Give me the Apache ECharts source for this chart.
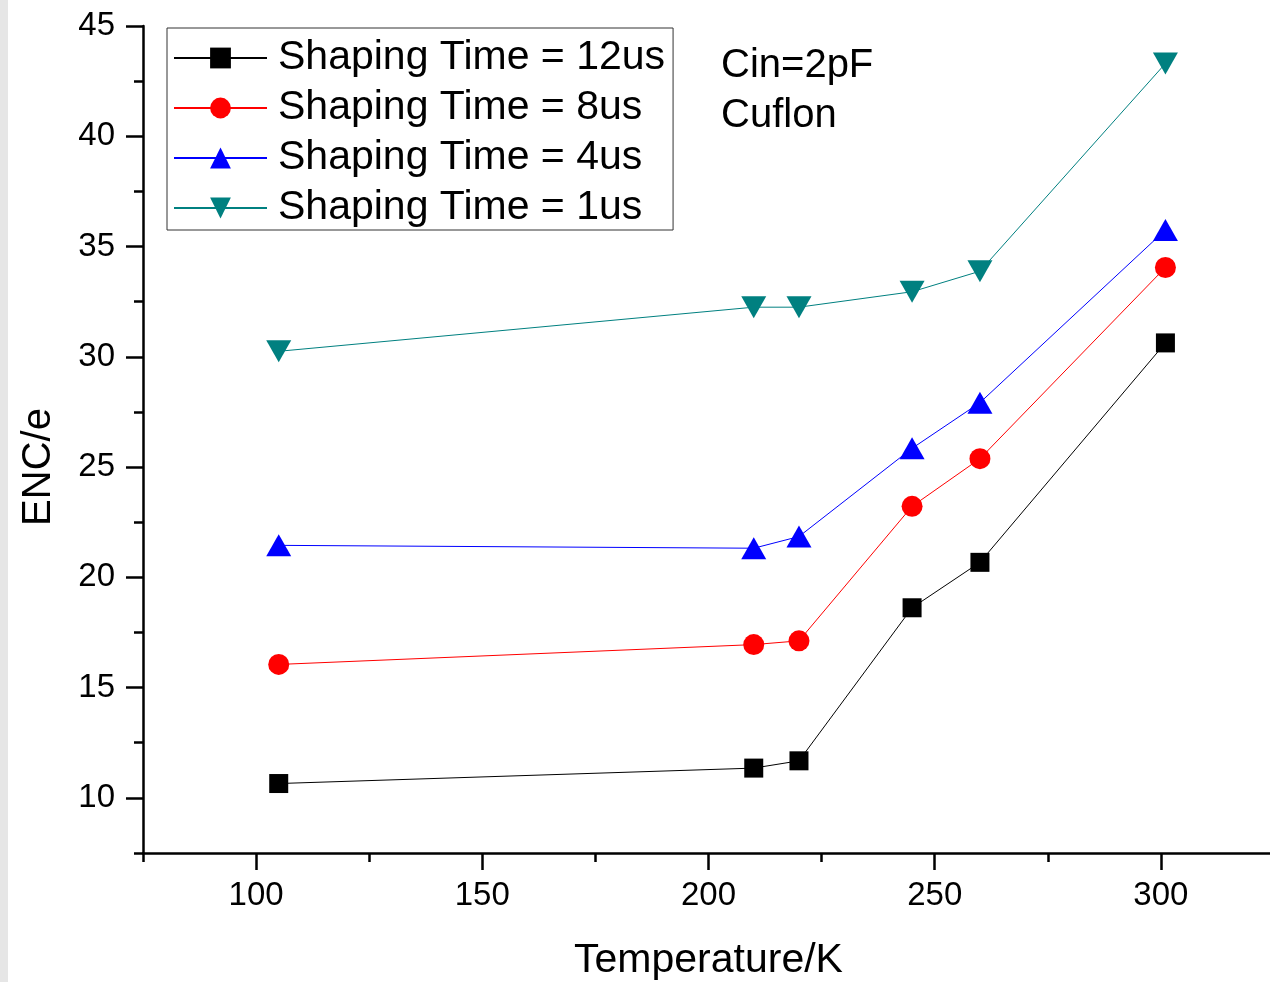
<!DOCTYPE html>
<html>
<head>
<meta charset="utf-8">
<script src="https://cdn.jsdelivr.net/npm/echarts@6/dist/echarts.min.js"></script>
<style>
html,body{margin:0;padding:0;background:#fff;}
#chart{width:1270px;height:982px;}
</style>
</head>
<body>
<div id="chart"></div>
<script>
// ---- data ----
const temperatures = [105, 210, 220, 245, 260, 301];
const enc12us = [10.65, 11.35, 11.68, 18.62, 20.68, 30.63];
const enc8us  = [16.05, 16.95, 17.12, 23.22, 25.38, 34.05];
const enc4us  = [21.45, 21.32, 21.85, 25.85, 27.92, 35.75];
const enc1us  = [30.25, 32.25, 32.25, 32.95, 33.88, 43.3];
const seriesNames = ['Shaping Time = 12us', 'Shaping Time = 8us', 'Shaping Time = 4us', 'Shaping Time = 1us'];
const xMajorTicks = [100, 150, 200, 250, 300];
const yMajorTicks = [10, 15, 20, 25, 30, 35, 40, 45];
const annotations = ['Cin=2pF', 'Cuflon'];

const FONT = '"Liberation Sans", Arial, sans-serif';
const pair = (ys) => temperatures.map((t, i) => [t, ys[i]]);

const chart = echarts.init(document.getElementById('chart'), null, {renderer: 'canvas'});

const axisCommonX = {
  type: 'value', min: 75, max: 325, gridIndex: 0, position: 'bottom',
  splitLine: {show: false}, nameMoveOverlap: false
};
const axisCommonY = {
  type: 'value', min: 7.5, max: 45, gridIndex: 0, position: 'left',
  splitLine: {show: false}, nameMoveOverlap: false
};

function mkSeries(name, ys, color, symbol, size, rotate) {
  return {
    name: name, type: 'line', data: pair(ys),
    symbol: symbol, symbolSize: size, symbolRotate: rotate || 0,
    showSymbol: true, animation: false,
    lineStyle: {color: color, width: 1},
    itemStyle: {color: color, borderWidth: 0},
    emphasis: {disabled: true}
  };
}

const option = {
  backgroundColor: '#ffffff',
  animation: false,
  grid: {left: 143, top: 26, width: 1131, height: 827, containLabel: false, outerBoundsMode: 'none', show: false},
  xAxis: [
    Object.assign({}, axisCommonX, {
      interval: 25,
      name: 'Temperature/K', nameLocation: 'middle', nameGap: 87,
      nameTextStyle: {fontFamily: FONT, fontSize: 41, color: '#000'},
      axisLine: {show: true, lineStyle: {color: '#000', width: 2.5}},
      axisTick: {show: true, inside: false, length: 9, lineStyle: {color: '#000', width: 2.5}},
      axisLabel: {show: true, margin: 26, fontFamily: FONT, fontSize: 33, color: '#000',
        formatter: (v) => (xMajorTicks.indexOf(v) >= 0 ? String(v) : '')}
    }),
    Object.assign({}, axisCommonX, {
      interval: 25, offset: 0,
      axisLine: {show: false},
      axisTick: {show: true, inside: false, length: 17, customValues: xMajorTicks, lineStyle: {color: '#000', width: 2.5}},
      axisLabel: {show: false}
    })
  ],
  yAxis: [
    Object.assign({}, axisCommonY, {
      interval: 2.5,
      name: 'ENC/e', nameLocation: 'middle', nameGap: 84,
      nameTextStyle: {fontFamily: FONT, fontSize: 40, color: '#000', padding: [0, 55, 0, 0]},
      axisLine: {show: true, lineStyle: {color: '#000', width: 2.5}},
      axisTick: {show: true, inside: false, length: 9, lineStyle: {color: '#000', width: 2.5}},
      axisLabel: {show: true, margin: 28, fontFamily: FONT, fontSize: 33, color: '#000',
        formatter: (v) => (yMajorTicks.indexOf(v) >= 0 ? String(v) : '')}
    }),
    Object.assign({}, axisCommonY, {
      interval: 2.5, offset: 0,
      axisLine: {show: false},
      axisTick: {show: true, inside: false, length: 17, customValues: yMajorTicks, lineStyle: {color: '#000', width: 2.5}},
      axisLabel: {show: false}
    })
  ],
  legend: {
    show: true, orient: 'vertical', left: 167, top: 28,
    padding: [8, 8, 0, 6], itemGap: 6, itemWidth: 93, itemHeight: 26,
    backgroundColor: '#fff', borderColor: '#333', borderWidth: 1, borderRadius: 0,
    selectedMode: false,
    textStyle: {fontFamily: FONT, fontSize: 41, color: '#000', lineHeight: 44, padding: [0, 0, 0, 6]},
    data: seriesNames
  },
  graphic: [
    {type: 'rect', left: 0, top: 0, shape: {width: 8, height: 982}, style: {fill: '#e6e6e6'}, silent: true},
    {type: 'text', x: 721, y: 65.5, style: {text: annotations[0], font: '40px ' + FONT, fill: '#000', textVerticalAlign: 'middle'}, silent: true},
    {type: 'text', x: 721, y: 115.5, style: {text: annotations[1], font: '40px ' + FONT, fill: '#000', textVerticalAlign: 'middle'}, silent: true}
  ],
  series: [
    mkSeries(seriesNames[0], enc12us, '#000000', 'rect', 19),
    mkSeries(seriesNames[1], enc8us, '#ff0000', 'circle', 21),
    mkSeries(seriesNames[2], enc4us, '#0000ff', 'triangle', [25, 22]),
    mkSeries(seriesNames[3], enc1us, '#008080', 'triangle', [25, 22], 180)
  ]
};
chart.setOption(option);
</script>
</body>
</html>
